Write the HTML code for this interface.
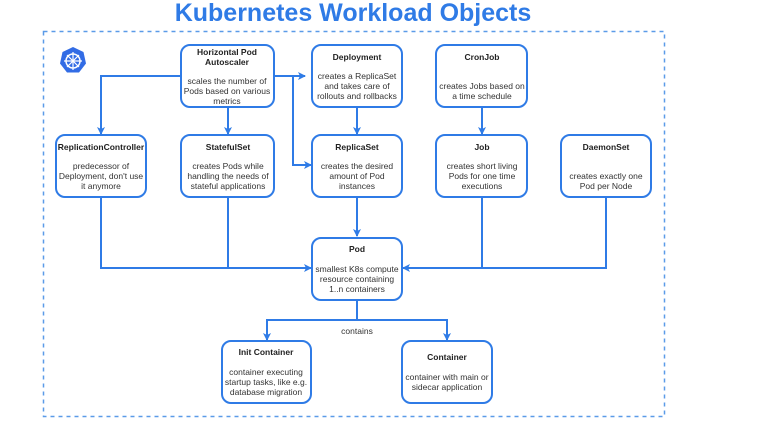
<!DOCTYPE html>
<html><head><style>
body{margin:0;width:758px;height:418px;background:#fff;overflow:hidden;font-family:"Liberation Sans",Arial,sans-serif;}
</style></head><body>
<svg width="758" height="418" xmlns="http://www.w3.org/2000/svg" font-family="Liberation Sans, Arial, sans-serif">
<defs><marker id="a" markerWidth="8" markerHeight="8" refX="7" refY="4" orient="auto" markerUnits="userSpaceOnUse"><path d="M0,0 L8,4 L0,8 L2,4 z" fill="#2f7be6"/></marker></defs>
<text x="353" y="21" text-anchor="middle" font-size="25" font-weight="bold" fill="#2f7be6">Kubernetes Workload Objects</text>
<rect x="43.5" y="31.5" width="621" height="385" fill="none" stroke="#5b9be8" stroke-width="1.5" stroke-dasharray="4,4"/>
<polygon points="73,47 83.5,52 86,63.5 79,72.5 67,72.5 60,63.5 62.5,52" fill="#326ce5"/>
<circle cx="73" cy="61" r="7" fill="none" stroke="#fff" stroke-width="1.5"/>
<g stroke="#fff" stroke-width="1.2"><line x1="73" y1="52" x2="73" y2="70"/><line x1="64" y1="61" x2="82" y2="61"/><line x1="67" y1="55" x2="79" y2="67"/><line x1="79" y1="55" x2="67" y2="67"/></g>
<g fill="none" stroke="#2f7be6" stroke-width="2">
<path d="M274,76 H305" marker-end="url(#a)"/>
<path d="M293,76 V165 H311" marker-end="url(#a)"/>
<path d="M181,76 H101 V134" marker-end="url(#a)"/>
<path d="M228,107 V134" marker-end="url(#a)"/>
<path d="M357,107 V134" marker-end="url(#a)"/>
<path d="M482,107 V134" marker-end="url(#a)"/>
<path d="M101,197 V268 H311" marker-end="url(#a)"/>
<path d="M228,197 V268"/>
<path d="M357,197 V236" marker-end="url(#a)"/>
<path d="M606,197 V268 H403" marker-end="url(#a)"/>
<path d="M482,197 V268"/>
<path d="M357,300 V320 H267 V340" marker-end="url(#a)"/>
<path d="M357,320 H447 V340" marker-end="url(#a)"/>
</g>
<g fill="#fff" stroke="#2f7be6" stroke-width="2">
<rect x="181" y="45" width="93" height="62" rx="9"/>
<rect x="312" y="45" width="90" height="62" rx="9"/>
<rect x="436" y="45" width="91" height="62" rx="9"/>
<rect x="56" y="135" width="90" height="62" rx="9"/>
<rect x="181" y="135" width="93" height="62" rx="9"/>
<rect x="312" y="135" width="90" height="62" rx="9"/>
<rect x="436" y="135" width="91" height="62" rx="9"/>
<rect x="561" y="135" width="90" height="62" rx="9"/>
<rect x="312" y="238" width="90" height="62" rx="9"/>
<rect x="222" y="341" width="89" height="62" rx="9"/>
<rect x="402" y="341" width="90" height="62" rx="9"/>
</g>
<g font-size="8.5" text-anchor="middle" fill="#222">
<g font-weight="bold">
<text x="227" y="55">Horizontal Pod</text><text x="227" y="65">Autoscaler</text>
<text x="357" y="60">Deployment</text>
<text x="482" y="60">CronJob</text>
<text x="101" y="150">ReplicationController</text>
<text x="228" y="150">StatefulSet</text>
<text x="357" y="150">ReplicaSet</text>
<text x="482" y="150">Job</text>
<text x="606" y="150">DaemonSet</text>
<text x="357" y="252">Pod</text>
<text x="266" y="355">Init Container</text>
<text x="447" y="360">Container</text>
</g>
<g fill="#333">
<text x="227" y="84">scales the number of</text><text x="227" y="94">Pods based on various</text><text x="227" y="104">metrics</text>
<text x="357" y="79">creates a ReplicaSet</text><text x="357" y="89">and takes care of</text><text x="357" y="99">rollouts and rollbacks</text>
<text x="482" y="89">creates Jobs based on</text><text x="482" y="99">a time schedule</text>
<text x="101" y="169">predecessor of</text><text x="101" y="179">Deployment, don't use</text><text x="101" y="189">it anymore</text>
<text x="228" y="169">creates Pods while</text><text x="228" y="179">handling the needs of</text><text x="228" y="189">stateful applications</text>
<text x="357" y="169">creates the desired</text><text x="357" y="179">amount of Pod</text><text x="357" y="189">instances</text>
<text x="482" y="169">creates short living</text><text x="482" y="179">Pods for one time</text><text x="482" y="189">executions</text>
<text x="606" y="179">creates exactly one</text><text x="606" y="189">Pod per Node</text>
<text x="357" y="272">smallest K8s compute</text><text x="357" y="282">resource containing</text><text x="357" y="292">1..n containers</text>
<text x="357" y="334">contains</text>
<text x="266" y="375">container executing</text><text x="266" y="385">startup tasks, like e.g.</text><text x="266" y="395">database migration</text>
<text x="447" y="380">container with main or</text><text x="447" y="390">sidecar application</text>
</g></g>
</svg>
</body></html>
